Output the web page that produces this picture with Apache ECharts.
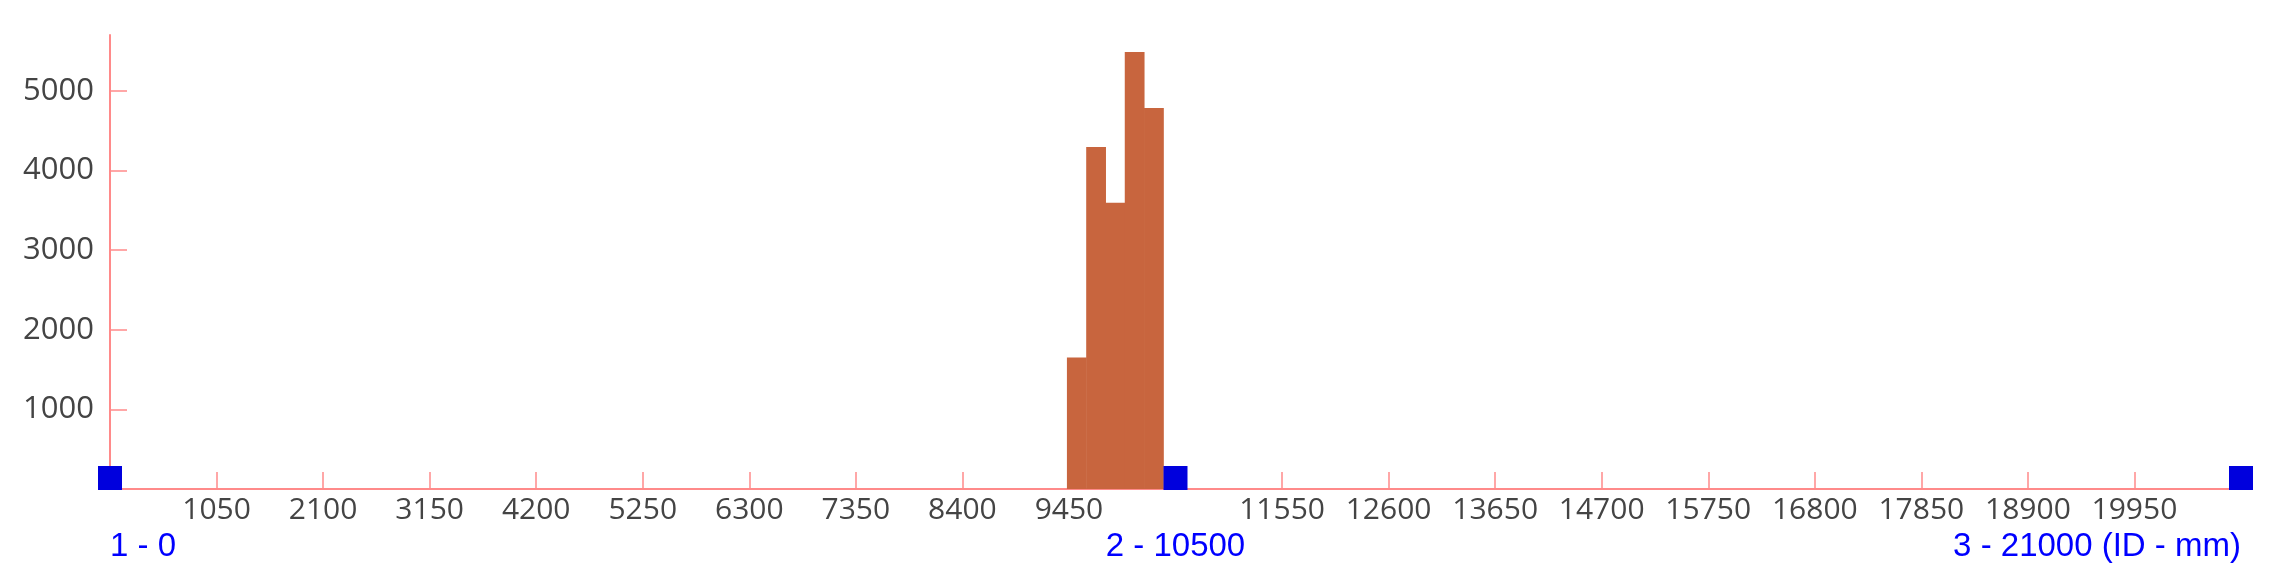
<!DOCTYPE html>
<html>
<head>
<meta charset="utf-8">
<script src="https://cdn.jsdelivr.net/npm/echarts@6/dist/echarts.min.js"></script>
<style>
html,body{margin:0;padding:0;background:#fff;}
#chart{width:2294px;height:583px;}
</style>
</head>
<body>
<div id="chart"></div>
<script>
// Histogram bins (mm) and counts
var binStarts = [9430, 9620, 9810, 10000, 10190];
var binEnds   = [9620, 9810, 10000, 10190, 10380];
var counts    = [1650, 4295, 3595, 5485, 4785];

// Markers on the axis
var markerValues = [0, 10500, 21000];
var markerLabels = ['1 - 0', '2 - 10500', '3 - 21000 (ID - mm)'];

// Tick labels
var xTickValues = [1050, 2100, 3150, 4200, 5250, 6300, 7350, 8400, 9450,
                   11550, 12600, 13650, 14700, 15750, 16800, 17850, 18900, 19950];
var yTickValues = [1000, 2000, 3000, 4000, 5000];

var axisColor = '#ff8a8a';
var labelColor = '#444444';

var histData = binStarts.map(function (s, i) { return [s, binEnds[i], counts[i]]; });
var aligns = ['left', 'center', 'right'];
var markerData = markerValues.map(function (v, i) {
  return {
    value: [v, 0],
    label: { formatter: markerLabels[i], align: aligns[i] }
  };
});
function plain(v) { return String(v); }

var chart = echarts.init(document.getElementById('chart'));
chart.setOption({
  animation: false,
  grid: { left: 110, right: 53, top: 35, bottom: 94, containLabel: false },
  xAxis: {
    type: 'value', min: 0, max: 21000, interval: 1050,
    axisLine: { show: true, lineStyle: { color: axisColor, width: 2 } },
    axisTick: { show: true, inside: true, length: 17, customValues: xTickValues,
                lineStyle: { color: axisColor, width: 1.5 } },
    axisLabel: { customValues: xTickValues, color: labelColor, fontSize: 30,
                 fontFamily: 'Open Sans', margin: 6, formatter: plain },
    splitLine: { show: false }
  },
  yAxis: {
    type: 'value', min: 0, max: 5700,
    axisLine: { show: true, lineStyle: { color: axisColor, width: 2 } },
    axisTick: { show: true, inside: true, length: 17, customValues: yTickValues,
                lineStyle: { color: axisColor, width: 1.5 } },
    axisLabel: { customValues: yTickValues, color: labelColor, fontSize: 31,
                 fontFamily: 'Open Sans', margin: 16, formatter: plain },
    splitLine: { show: false }
  },
  series: [
    {
      type: 'custom',
      data: histData,
      renderItem: function (params, api) {
        var p0 = api.coord([api.value(0), api.value(2)]);
        var p1 = api.coord([api.value(1), 0]);
        return {
          type: 'rect',
          shape: { x: p0[0], y: p0[1], width: p1[0] - p0[0] + 0.5, height: p1[1] - p0[1] },
          style: { fill: '#c8653e' }
        };
      },
      z: 2
    },
    {
      type: 'scatter',
      data: markerData,
      symbol: 'rect',
      symbolSize: 24,
      symbolOffset: [0, -11],
      itemStyle: { color: '#0000dd', opacity: 1 },
      label: {
        show: true, position: 'bottom', distance: 40,
        color: '#0000ff', fontSize: 33, fontFamily: 'Liberation Sans'
      },
      z: 5
    }
  ]
});
</script>
</body>
</html>
